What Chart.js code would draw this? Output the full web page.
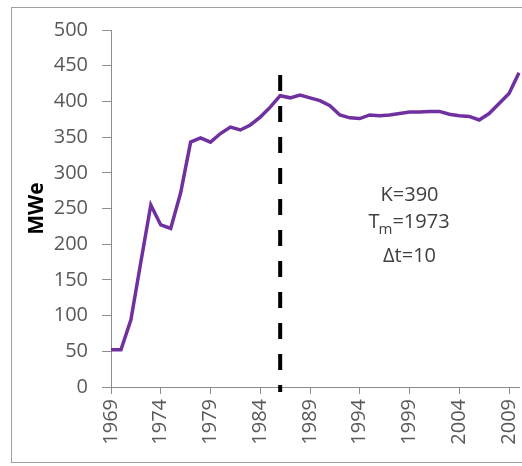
<!DOCTYPE html>
<html>
<head>
<meta charset="utf-8">
<script src="https://cdn.jsdelivr.net/npm/chart.js@4.4.1/dist/chart.umd.min.js"></script>
<style>
  html, body { margin: 0; padding: 0; background: #fff; overflow: hidden; }
  #wrap { width: 522px; height: 466px; }
  canvas { display: block; }
</style>
</head>
<body>
<div id="wrap"><canvas id="chart" width="522" height="466"></canvas></div>
<script>
const years = ['1969','1970','1971','1972','1973','1974','1975','1976','1977','1978',
  '1979','1980','1981','1982','1983','1984','1985','1986','1987','1988',
  '1989','1990','1991','1992','1993','1994','1995','1996','1997','1998',
  '1999','2000','2001','2002','2003','2004','2005','2006','2007','2008',
  '2009','2010'];
const mwe = [52, 52, 94, 175, 255, 227, 222, 272, 343, 349,
  343, 355, 364, 360, 367, 378, 392, 408, 405, 409,
  405, 401, 394, 381, 377, 376, 381, 380, 381, 383,
  385, 385, 386, 386, 382, 380, 379, 374, 383, 397,
  411, 440];
const markerYear = '1986';
const markerRange = [437, -7];
const notes = ['K=390', 'Tm=1973', 'Δt=10'];

const FONT = "'Open Sans', 'Liberation Sans', sans-serif";
const axisGrey = '#8c8c8c';
const labelGrey = '#595959';

const frame = {
  id: 'frame',
  beforeDraw(chart) {
    const c = chart.ctx;
    c.save();
    c.fillStyle = '#fff';
    c.fillRect(0, 0, chart.width, chart.height);
    c.strokeStyle = '#a0a0a0';
    c.lineWidth = 1;
    c.strokeRect(11.5, 7.5, 600, 455);
    c.restore();
  }
};

const notesPlugin = {
  id: 'notes',
  afterDraw(chart) {
    const c = chart.ctx;
    const x = chart.scales.x.getPixelForValue(30);
    const y = chart.scales.y;
    c.save();
    c.fillStyle = '#404040';
    c.font = '20px ' + FONT;
    c.textBaseline = 'alphabetic';
    c.textAlign = 'center';
    c.fillText(notes[0], x, y.getPixelForValue(260));
    // T with subscript m
    const big = '20px ' + FONT, small = '15px ' + FONT;
    c.font = big; const wT = c.measureText('T').width;
    c.font = small; const wm = c.measureText('m').width;
    c.font = big; const wr = c.measureText('=1973').width;
    let sx = x - (wT + wm + wr) / 2;
    const by = y.getPixelForValue(222);
    c.textAlign = 'left';
    c.font = big; c.fillText('T', sx, by); sx += wT - 1;
    c.font = small; c.fillText('m', sx, by + 6); sx += wm;
    c.font = big; c.fillText('=1973', sx, by);
    c.textAlign = 'center';
    c.fillText(notes[2], x, y.getPixelForValue(175));
    c.restore();
  }
};

new Chart(document.getElementById('chart'), {
  type: 'line',
  data: {
    labels: years,
    datasets: [{
      data: mwe,
      borderColor: '#7030a0',
      borderWidth: 3.5,
      pointRadius: 0,
      tension: 0
    }, {
      data: [{x: markerYear, y: markerRange[0]}, {x: markerYear, y: markerRange[1]}],
      borderColor: '#000',
      borderWidth: 4,
      borderDash: [16, 15],
      pointRadius: 0,
      clip: false
    }]
  },
  options: {
    responsive: false,
    animation: false,
    layout: { padding: { left: 12, top: 30, right: 3, bottom: 0 } },
    plugins: { legend: { display: false }, tooltip: { enabled: false } },
    scales: {
      x: {
        type: 'category',
        offset: false,
        afterFit(s) { s.height = 79; s.paddingLeft = 0; s.paddingRight = 0; },
        border: { color: axisGrey },
        grid: {
          drawOnChartArea: false,
          tickLength: 7,
          color: ctx => (ctx.index % 5 === 0 ? axisGrey : 'transparent')
        },
        ticks: {
          autoSkip: false,
          maxRotation: 90,
          minRotation: 90,
          padding: 5,
          color: labelGrey,
          font: { family: FONT, size: 20 },
          callback(v, i) { return i % 5 === 0 ? this.getLabelForValue(v) : ''; }
        }
      },
      y: {
        min: 0,
        max: 500,
        afterFit(s) { s.width = 99; s.paddingTop = 0; s.paddingBottom = 0; },
        border: { color: axisGrey },
        grid: { drawOnChartArea: false, tickLength: 9, color: axisGrey },
        ticks: {
          stepSize: 50,
          padding: 14,
          color: labelGrey,
          font: { family: FONT, size: 20 }
        },
        title: {
          display: true,
          text: 'MWe',
          color: '#000',
          padding: { top: 12, bottom: 0 },
          font: { family: FONT, size: 21, weight: 'bold' }
        }
      }
    }
  },
  plugins: [frame, notesPlugin]
});
</script>
</body>
</html>
